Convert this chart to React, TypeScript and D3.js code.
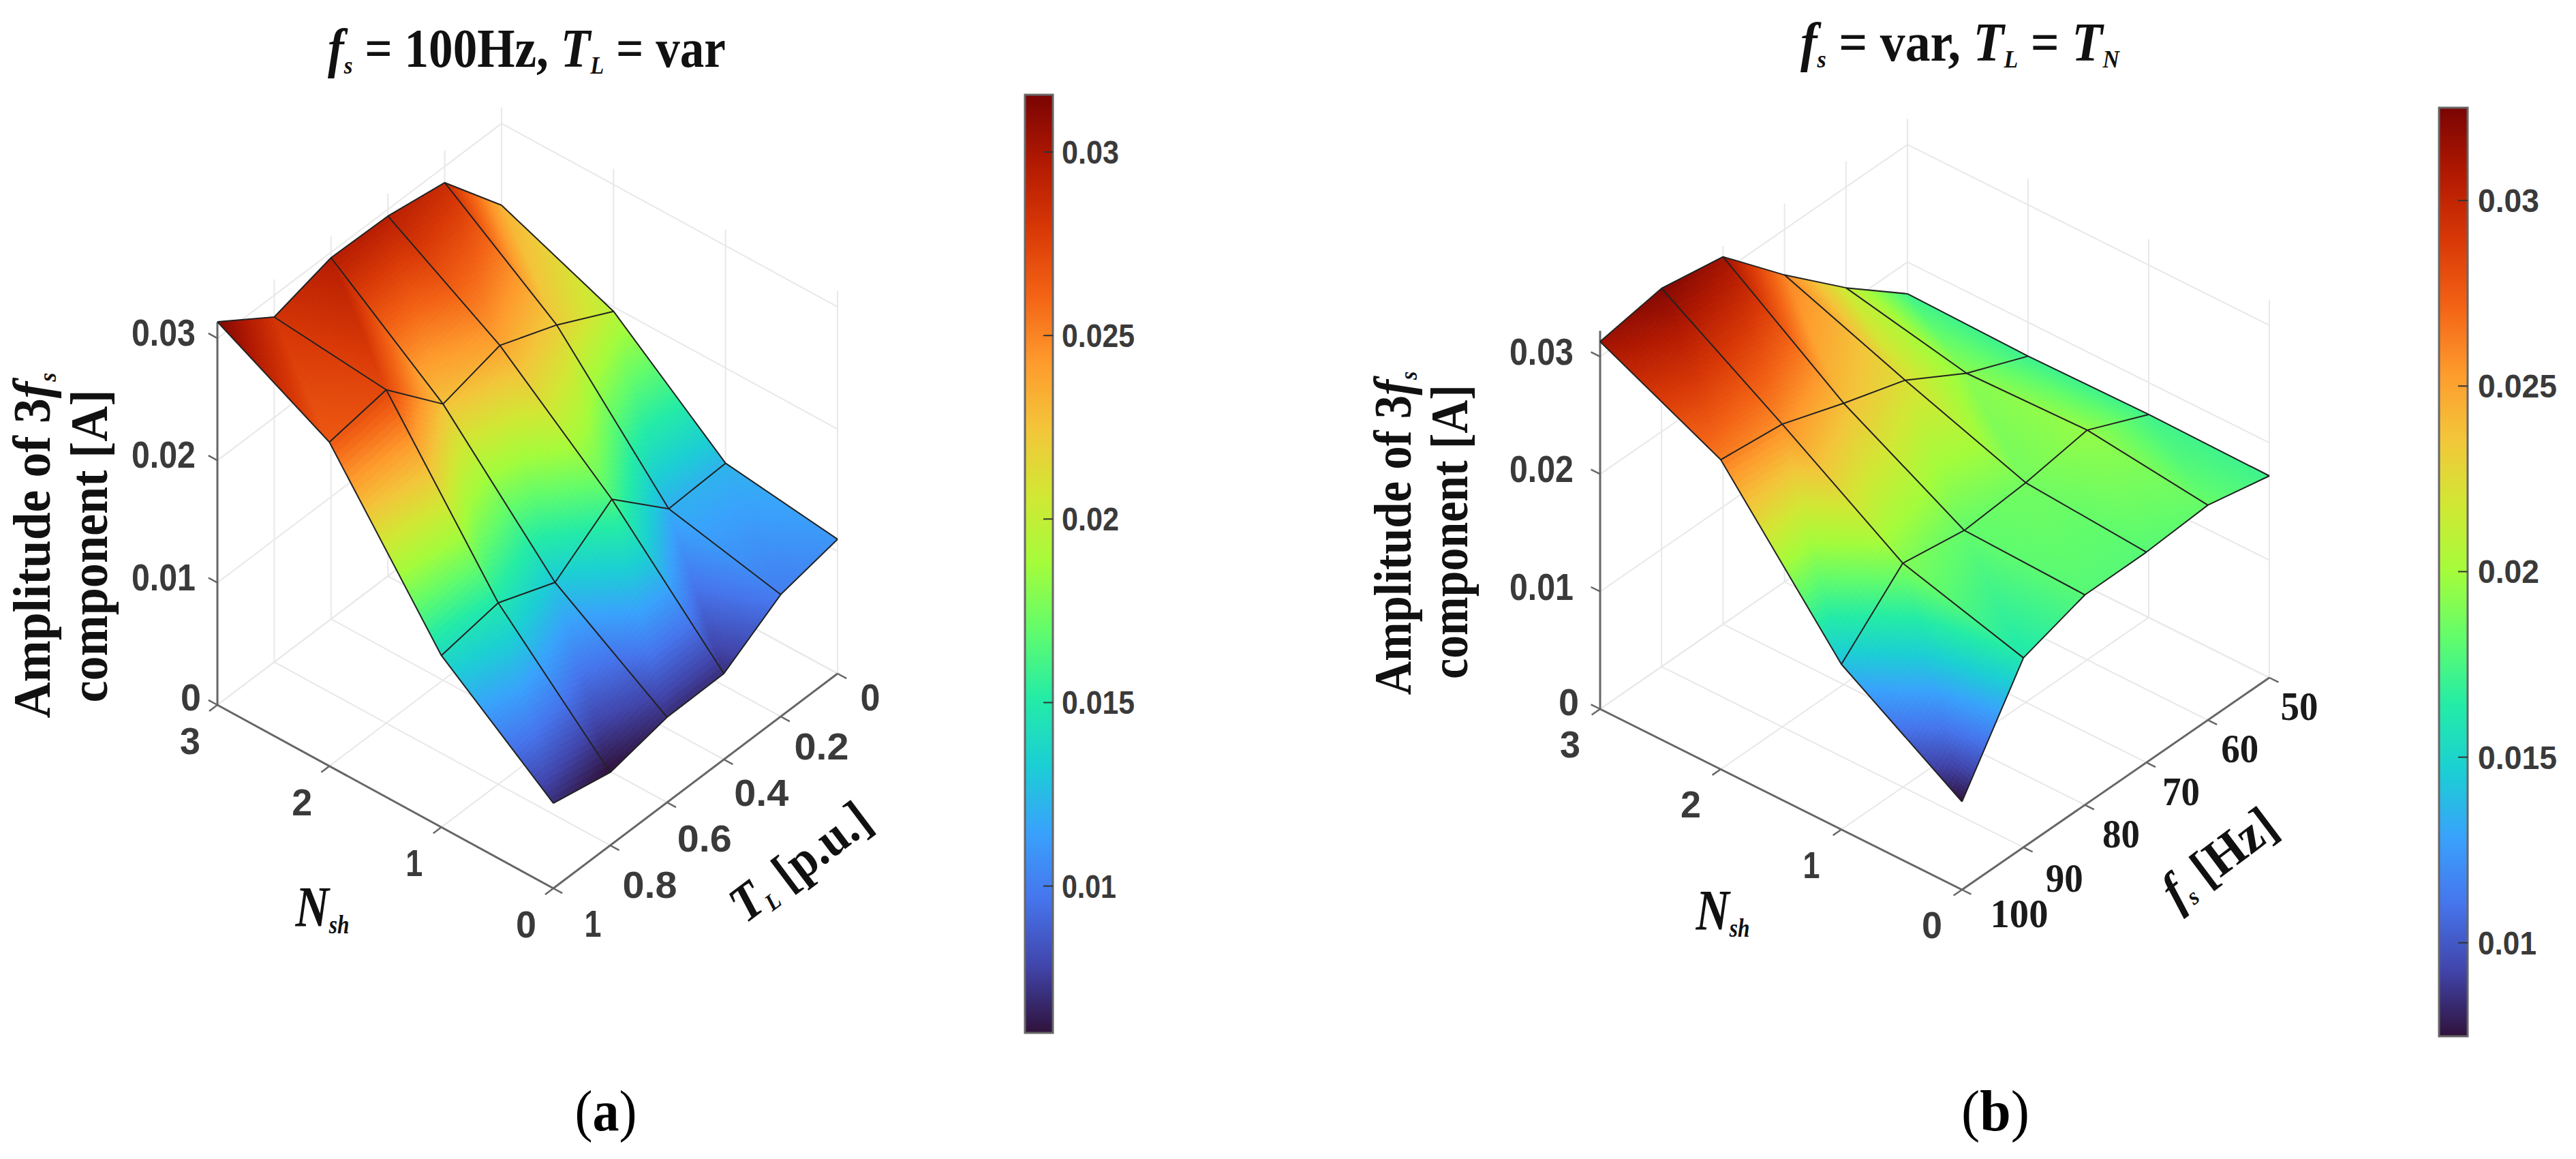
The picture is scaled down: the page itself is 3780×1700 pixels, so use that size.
import React, { useEffect, useRef } from 'react';
import * as d3 from 'd3';

// turbo colormap samples
const turboStops = ['#30123b', '#4145ab', '#4675ed', '#39a2fc', '#1bcfd4', '#24eca6', '#61fc6c', '#a4fc3b', '#d1e834', '#f3c63a', '#fe9b2d', '#f36315', '#d93806', '#b11901', '#7a0403'];

const nshValues = [3, 2, 1, 0];
const zTicks = [0, 0.01, 0.02, 0.03];
const barTicks = [0.01, 0.015, 0.02, 0.025, 0.03];

// panel (a): amplitude per load torque, one list per Nsh
const torqueValues = [1, 0.8, 0.6, 0.4, 0.2, 0];
const aNsh3 = [0.03134, 0.02822, 0.02956, 0.02945, 0.02867, 0.02331];
const aNsh2 = [0.0265, 0.02727, 0.02259, 0.02387, 0.02203, 0.01963];
const aNsh1 = [0.01405, 0.01484, 0.013, 0.01629, 0.012, 0.01221];
const aNsh0 = [0.00697, 0.00597, 0.00697, 0.00703, 0.00998, 0.01099];

// panel (b): amplitude per supply frequency, one list per Nsh
const freqValues = [100, 90, 80, 70, 60, 50];
const bNsh3 = [0.03128, 0.0322, 0.03128, 0.02612, 0.02142, 0.0173];
const bNsh2 = [0.02635, 0.02577, 0.02394, 0.02229, 0.01927, 0.01712];
const bNsh1 = [0.01407, 0.01906, 0.01824, 0.01869, 0.01956, 0.01728];
const bNsh0 = [0.00749, 0.01613, 0.01788, 0.01791, 0.0183, 0.01718];

const SANS = '"Liberation Sans", Arial, sans-serif';
const SERIF = '"Liberation Serif", "Times New Roman", serif';
const SUBDIV = 34;

type Part = { t: string; i?: boolean; sub?: boolean; n?: boolean };

const panelA = {
  left: [319, 1034], bottom: [812, 1303], right: [1229, 988],
  zScale: 17930, zMax: 0.0313,
  second: torqueValues,
  rows: [aNsh3, aNsh2, aNsh1, aNsh0],
  bar: { x: 1504, w: 41, top: 139, bottom: 1515, min: 0.006, max: 0.03156, labelX: 1558, wide: 107, narrow: 84 },
  secondLabels: ['1', '0.8', '0.6', '0.4', '0.2', '0'],
  secondOffsets: [[58, 51], [58, 57], [55, 52], [55, 48], [60, 43], [48, 34]],
  secondWidths: [25, 80, 80, 80, 80, 29],
  secondSerif: false,
  nOffset: [-40, 52],
  zDx: [-39, -79, -79, -79], zDy: [-12, -9, -9, -9],
  title: { x: 773, y: 98, w: 584, parts: [{ t: 'f', i: true }, { t: 's', i: true, sub: true }, { t: ' = 100Hz, ' }, { t: 'T', i: true }, { t: 'L', i: true, sub: true }, { t: ' = var' }] as Part[] },
  y1: { x: 73, y: 800, w: 507 }, y2: { x: 157, y: 801, w: 459 },
  nLabel: { x: 473, y: 1359, w: 79 },
  sLabel: { x: 1189, y: 1284, w: 238, parts: [{ t: 'T', i: true }, { t: 'L', i: true, sub: true }, { t: ' [p.u.]' }] as Part[] },
  caption: { x: 889, t: 'a', w: 91 },
};

const panelB = {
  left: [2348, 1040], bottom: [2879, 1305], right: [3330, 994],
  zScale: 17230, zMax: 0.0322,
  second: freqValues,
  rows: [bNsh3, bNsh2, bNsh1, bNsh0],
  bar: { x: 3579, w: 42, top: 158, bottom: 1520, min: 0.00748, max: 0.0325, labelX: 3636, wide: 116, narrow: 90 },
  secondLabels: ['100', '90', '80', '70', '60', '50'],
  secondOffsets: [[84, 36], [60, 46], [53, 43], [51, 44], [47, 43], [44, 43]],
  secondWidths: [85, 55, 55, 55, 55, 55],
  secondSerif: true,
  nOffset: [-44, 51],
  zDx: [-46, -86, -86, -86], zDy: [-11, -8, -8, -8],
  title: { x: 2876, y: 89, w: 468, parts: [{ t: 'f', i: true }, { t: 's', i: true, sub: true }, { t: ' = var, ' }, { t: 'T', i: true }, { t: 'L', i: true, sub: true }, { t: ' = ' }, { t: 'T', i: true }, { t: 'N', i: true, sub: true }] as Part[] },
  y1: { x: 2070, y: 782, w: 475 }, y2: { x: 2153, y: 780, w: 432 },
  nLabel: { x: 2528, y: 1364, w: 79 },
  sLabel: { x: 3271, y: 1278, w: 190, parts: [{ t: 'f', i: true }, { t: 's', i: true, sub: true }, { t: ' [Hz]' }] as Part[] },
  caption: { x: 2928, t: 'b', w: 100 },
};

// text helper: squeezes the run to the width measured on the picture
function label(g: any, o: { x: number; y: number; rot?: number; w?: number; size: number; family: string; bold?: boolean; fill?: string; parts: Part[] }) {
  const text = g.append('text')
    .attr('font-family', o.family)
    .attr('font-size', o.size)
    .attr('font-weight', o.bold === false ? 'normal' : 'bold')
    .attr('fill', o.fill ?? '#111')
    .style('white-space', 'pre');
  let shift = 0;
  o.parts.forEach((p) => {
    const down = p.sub ? Math.round(o.size * 0.12) : 0;
    text.append('tspan')
      .attr('dy', down - shift)
      .attr('font-style', p.i ? 'italic' : 'normal')
      .attr('font-weight', p.n ? 'normal' : null)
      .attr('font-size', p.sub ? o.size * 0.46 : o.size)
      .text(p.t);
    shift = down;
  });
  const len = (text.node() as SVGTextElement).getComputedTextLength();
  const sx = o.w ? o.w / len : 1;
  text.attr('transform', `translate(${o.x},${o.y}) rotate(${o.rot ?? 0}) scale(${sx},1) translate(${-len / 2},0)`);
}

function drawPanel(svg: any, p: typeof panelA) {
  const g = svg.append('g');
  const sLast = p.second.length - 1;
  const dnX = d3.scaleLinear().domain([0, 3]).range([0, p.left[0] - p.bottom[0]]);
  const dnY = d3.scaleLinear().domain([0, 3]).range([0, p.left[1] - p.bottom[1]]);
  const dsX = d3.scaleLinear().domain([p.second[0], p.second[sLast]]).range([0, p.right[0] - p.bottom[0]]);
  const dsY = d3.scaleLinear().domain([p.second[0], p.second[sLast]]).range([0, p.right[1] - p.bottom[1]]);
  const project = (n: number, s: number, z: number): [number, number] => [
    p.bottom[0] + dnX(n) + dsX(s),
    p.bottom[1] + dnY(n) + dsY(s) - z * p.zScale,
  ];
  const line = d3.line();
  const seg = (a: [number, number], b: [number, number], stroke: string, w: number, parent = g) =>
    parent.append('path').attr('d', line([a, b])).attr('fill', 'none').attr('stroke', stroke).attr('stroke-width', w);

  // walls and floor
  const grid = g.append('g');
  const gridCol = '#e8e8e8';
  const sBack = p.second[sLast];
  const sFront = p.second[0];
  nshValues.forEach((n) => {
    seg(project(n, sFront, 0), project(n, sBack, 0), gridCol, 2, grid);
    seg(project(n, sBack, 0), project(n, sBack, p.zMax), gridCol, 2, grid);
  });
  p.second.forEach((s) => {
    seg(project(0, s, 0), project(3, s, 0), gridCol, 2, grid);
    seg(project(3, s, 0), project(3, s, p.zMax), gridCol, 2, grid);
  });
  zTicks.forEach((z) => {
    seg(project(3, sFront, z), project(3, sBack, z), gridCol, 2, grid);
    seg(project(3, sBack, z), project(0, sBack, z), gridCol, 2, grid);
  });

  // axes and ticks
  const axisCol = '#666';
  seg(project(3, sFront, 0), project(3, sFront, p.zMax), axisCol, 3);
  seg(project(3, sFront, 0), project(0, sFront, 0), axisCol, 3);
  seg(project(0, sFront, 0), project(0, sBack, 0), axisCol, 3);
  const nUnit = 3 / Math.hypot(dnX(3), dnY(3));
  const sUnit = (p.second[sLast] - p.second[0]) / Math.hypot(dsX(sBack), dsY(sBack));
  zTicks.forEach((z, i) => {
    const a = project(3, sFront, z);
    seg(a, project(3 + 15 * nUnit, sFront, z), axisCol, 2.5);
    label(g, {
      x: a[0] + p.zDx[i], y: a[1] + p.zDy[i] + 20, w: z === 0 ? 30 : 94, size: 56, family: SANS, fill: '#3a3a3a',
      parts: [{ t: String(z) }],
    });
  });
  nshValues.forEach((n) => {
    const a = project(n, sFront, 0);
    seg(a, project(n, sFront - 15 * sUnit, 0), axisCol, 2.5);
    label(g, {
      x: a[0] + p.nOffset[0], y: a[1] + p.nOffset[1] + 20, w: n === 1 ? 25 : 30, size: 56, family: SANS, fill: '#3a3a3a',
      parts: [{ t: String(n) }],
    });
  });
  p.second.forEach((s, i) => {
    const a = project(0, s, 0);
    seg(a, project(-15 * nUnit, s, 0), axisCol, 2.5);
    label(g, {
      x: a[0] + p.secondOffsets[i][0], y: a[1] + p.secondOffsets[i][1] + (p.secondSerif ? 19 : 20), w: p.secondWidths[i],
      size: p.secondSerif ? 60 : 56, family: p.secondSerif ? SERIF : SANS, fill: p.secondSerif ? '#1a1a1a' : '#3a3a3a',
      parts: [{ t: p.secondLabels[i] }],
    });
  });

  // colour scale shared with the bar
  const toUnit = d3.scaleLinear().domain([p.bar.min, p.bar.max]).range([0, 1]).clamp(true);
  const turbo = d3.piecewise(d3.interpolateRgb, turboStops);
  const color = (v: number) => turbo(toUnit(v));

  // surface, back to front. each patch is two triangles sharing one diagonal,
  // cut small so the colour can follow the height
  const cells = g.append('g');
  const rowIdx = d3.range(nshValues.length - 1);
  const colIdx = d3.range(sLast).reverse();
  rowIdx.forEach((r) => {
    colIdx.forEach((c) => {
      const n0 = nshValues[r], n1 = nshValues[r + 1], s0 = p.second[c], s1 = p.second[c + 1];
      const z00 = p.rows[r][c], z01 = p.rows[r][c + 1], z10 = p.rows[r + 1][c], z11 = p.rows[r + 1][c + 1];
      const corner = (i: number, j: number) => {
        const u = i / SUBDIV, v = j / SUBDIV;
        const z = i + j <= SUBDIV
          ? z00 + v * (z01 - z00) + u * (z10 - z00)
          : z11 + (1 - u) * (z01 - z11) + (1 - v) * (z10 - z11);
        return { xy: project(n0 + (n1 - n0) * u, s0 + (s1 - s0) * v, z), z };
      };
      const tri = (a: any, b: any, d: any) => {
        const col = color((a.z + b.z + d.z) / 3);
        cells.append('path')
          .attr('d', line([a.xy, b.xy, d.xy]) + 'Z')
          .attr('fill', col).attr('stroke', col).attr('stroke-width', 1);
      };
      for (let i = 0; i < SUBDIV; i++) {
        for (let j = 0; j < SUBDIV; j++) {
          const a = corner(i, j), b = corner(i, j + 1), d = corner(i + 1, j + 1), e = corner(i + 1, j);
          tri(a, b, e);
          tri(b, d, e);
        }
      }
    });
  });

  // mesh lines
  const mesh = g.append('g').attr('fill', 'none').attr('stroke', '#222').attr('stroke-width', 2).attr('stroke-linejoin', 'round');
  p.rows.forEach((row, r) => {
    mesh.append('path').attr('d', line(row.map((z, c) => project(nshValues[r], p.second[c], z))));
  });
  p.second.forEach((s, c) => {
    mesh.append('path').attr('d', line(nshValues.map((n, r) => project(n, s, p.rows[r][c]))));
  });

  // colour bar
  const barY = d3.scaleLinear().domain([p.bar.min, p.bar.max]).range([p.bar.bottom, p.bar.top]);
  g.append('rect').attr('x', p.bar.x).attr('y', p.bar.top).attr('width', p.bar.w).attr('height', p.bar.bottom - p.bar.top)
    .attr('fill', 'url(#turboGrad)').attr('stroke', '#666').attr('stroke-width', 3);
  barTicks.forEach((t) => {
    g.append('line').attr('x1', p.bar.x + p.bar.w - 14).attr('x2', p.bar.x + p.bar.w).attr('y1', barY(t)).attr('y2', barY(t))
      .attr('stroke', '#333').attr('stroke-width', 2);
    const s = String(t);
    const w = s.length === 5 ? p.bar.wide : s === '0.01' ? p.bar.narrow - 4 : p.bar.narrow;
    label(g, { x: p.bar.labelX + w / 2, y: barY(t) + 17, w, size: 48, family: SANS, fill: '#3a3a3a', parts: [{ t: s }] });
  });

  // titles and axis names
  label(g, { x: p.title.x, y: p.title.y, w: p.title.w, size: 80, family: SERIF, fill: '#111', parts: p.title.parts });
  label(g, { x: p.y1.x, y: p.y1.y, rot: -90, w: p.y1.w, size: 78, family: SERIF, parts: [{ t: 'Amplitude of 3' }, { t: 'f', i: true }, { t: 's', i: true, sub: true }] });
  label(g, { x: p.y2.x, y: p.y2.y, rot: -90, w: p.y2.w, size: 78, family: SERIF, parts: [{ t: 'component [A]' }] });
  label(g, { x: p.nLabel.x, y: p.nLabel.y, w: p.nLabel.w, size: 84, family: SERIF, parts: [{ t: 'N', i: true }, { t: 'sh', i: true, sub: true }] });
  label(g, { x: p.sLabel.x, y: p.sLabel.y, rot: -37, w: p.sLabel.w, size: 76, family: SERIF, parts: p.sLabel.parts });
  label(g, { x: p.caption.x, y: 1658, w: p.caption.w, size: 84, family: SERIF, fill: '#000', parts: [{ t: '(', n: true }, { t: p.caption.t }, { t: ')', n: true }] });
}

export default function App() {
  const ref = useRef<SVGSVGElement>(null);

  useEffect(() => {
    const svg = d3.select(ref.current);
    svg.selectAll('*').remove();
    const grad = svg.append('defs').append('linearGradient').attr('id', 'turboGrad')
      .attr('x1', 0).attr('x2', 0).attr('y1', 1).attr('y2', 0);
    turboStops.forEach((c, i) => {
      grad.append('stop').attr('offset', i / (turboStops.length - 1)).attr('stop-color', c);
    });
    drawPanel(svg, panelA);
    drawPanel(svg, panelB as any);
  }, []);

  return (
    <svg ref={ref} width={3780} height={1700} style={{ position: 'absolute', left: 0, top: 0, background: '#fff' }} />
  );
}
